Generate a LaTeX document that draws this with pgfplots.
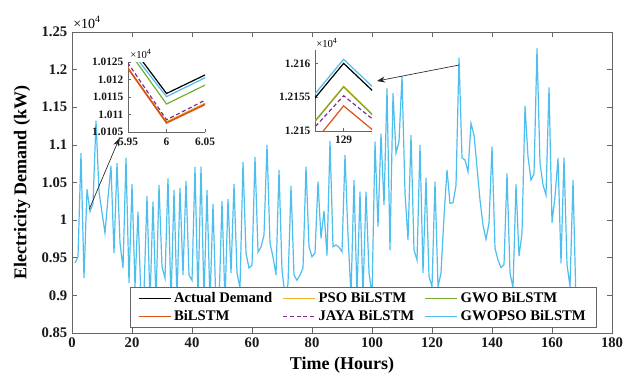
\documentclass[border=0pt]{standalone}
\usepackage{pgfplots}
\pgfplotsset{compat=1.18}
\usepackage{pgfplotstable}
\usetikzlibrary{arrows.meta}
\usepackage{fontspec}
\setmainfont{Liberation Serif}
\definecolor{colAct}{rgb}{0,0,0}
\definecolor{colBi}{rgb}{0.850,0.325,0.098}
\definecolor{colPSO}{rgb}{0.929,0.694,0.125}
\definecolor{colJaya}{rgb}{0.494,0.184,0.556}
\definecolor{colGWO}{rgb}{0.466,0.674,0.188}
\definecolor{colGP}{rgb}{0.302,0.745,0.933}
\definecolor{axgray}{rgb}{0.40,0.40,0.40}

\pgfplotstableread{
h v
1 9430
2 9514
3 10890
4 9231
5 10411
6 10116
7 10222
8 11322
9 10380
10 10100
11 9829
12 10300
13 10720
14 9563
15 10759
16 9696
17 9364
18 10826
19 9164
20 10480
21 9115
22 10112
23 8950
24 9050
25 10320
26 8900
27 10245
28 8900
29 10467
30 9381
31 9230
32 10556
33 8900
34 10400
35 8950
36 10427
37 9271
38 10520
39 9271
40 9200
41 10706
42 8950
43 10710
44 8950
45 10400
46 8900
47 10214
48 8850
49 8900
50 10254
51 8900
52 10280
53 9297
54 10480
55 9300
56 9100
57 10773
58 9563
59 9364
60 9400
61 10840
62 9576
63 9642
64 9802
65 10999
66 9696
67 9510
68 9270
69 10666
70 9337
71 9000
72 9150
73 10453
74 9271
75 9200
76 9271
77 9364
78 10710
79 9647
80 9514
81 9563
82 10511
83 9758
84 10121
85 9528
86 11051
87 9647
88 9670
89 9640
90 9580
91 10866
92 9800
93 9000
94 10533
95 9000
96 10378
97 9000
98 10378
99 9300
100 9000
101 11043
102 9913
103 11150
104 10200
105 11750
106 9603
107 11686
108 10892
109 11043
110 11915
111 10360
112 9736
113 11131
114 9603
115 9470
116 10999
117 9297
118 10560
119 9250
120 9115
121 10511
122 9115
123 9297
124 10046
125 10666
126 10224
127 10230
128 10460
129 12160
130 10827
131 10800
132 10644
133 11287
134 11131
135 10700
136 10267
137 9935
138 9745
139 9960
140 10976
141 9625
142 9470
143 9370
144 9410
145 10622
146 9300
147 9100
148 10476
149 9523
150 9825
151 11517
152 10843
153 10533
154 10613
155 12284
156 10755
157 10467
158 10334
159 11765
160 9966
161 10311
162 10822
163 9426
164 10830
165 9410
166 9115
167 10533
168 8900
}\demand

\pgfplotstableread{
h act gp gwo jaya pso bi
5 10411 10398 10421 10432 10416 10419
6 10116.0 10115.1 10113.0 10108.5 10107.9 10107.6
7 10222 10223 10221 10220 10214 10213
}\insetA

\pgfplotstableread{
dh act gp gwo jaya pso bi
-1 10460 10460.6 10460 10622 10457 10417
0 12160.0 12160.6 12156.5 12155.2 12156.6 12153.7
1 10827 10827.6 10795 11022 10790 10987
}\insetB

\begin{document}
\begin{tikzpicture}
\useasboundingbox (0,0) rectangle (475.5pt,-284.25pt);
\begin{axis}[
  at={(54pt,-249.75pt)}, anchor=south west,
  scale only axis, width=405pt, height=225.75pt,
  xmin=0, xmax=180, ymin=8500, ymax=12500,
  xtick={0,20,40,60,80,100,120,140,160,180},
  xticklabels={0,20,40,60,80,100,120,140,160,180},
  ytick={8500,9000,9500,10000,10500,11000,11500,12000,12500},
  yticklabels={0.85,0.9,0.95,1,1.05,1.1,1.15,1.2,1.25},
  scaled ticks=false,
  tick align=inside, major tick length=4pt,
  axis line style={draw=axgray, line width=0.5pt},
  every tick/.style={draw=axgray, line width=0.5pt},
  every tick label/.append style={font=\fontsize{11}{13}\selectfont\bfseries, text=black!90},
  xlabel={Time (Hours)},
  ylabel={Electricity Demand (kW)},
  every axis y label/.style={at={(axis description cs:-0.0926,0.5)}, rotate=90, anchor=center, font=\fontsize{13.5}{15}\selectfont\bfseries},
  every axis x label/.style={at={(axis description cs:0.5,-0.106)}, anchor=center, font=\fontsize{13.5}{15}\selectfont\bfseries},
  legend columns=3,
  legend cell align=left,
  legend image code/.code={\draw[#1] (0pt,0pt) -- (24pt,0pt);},
  legend style={at={(axis description cs:0.1074,0.153)}, anchor=north west,
    draw=axgray, fill=white, line width=0.5pt,
    font=\fontsize{11}{13}\selectfont\bfseries,
    /tikz/every even column/.append style={column sep=6pt},
    inner xsep=6pt, inner ysep=2pt},
]
\addlegendimage{color=colAct, line width=0.8pt}
\addlegendentry{Actual Demand}
\addlegendimage{color=colPSO, line width=0.8pt}
\addlegendentry{PSO BiLSTM}
\addlegendimage{color=colGWO, line width=0.8pt}
\addlegendentry{GWO BiLSTM}
\addlegendimage{color=colBi, line width=0.8pt}
\addlegendentry{BiLSTM}
\addlegendimage{color=colJaya, line width=0.8pt, dash pattern=on 3pt off 2pt}
\addlegendentry{JAYA BiLSTM}
\addplot[color=colGP, line width=0.9pt] table[x=h,y=v]{\demand};
\addlegendentry{GWOPSO BiLSTM}
\draw[-{Stealth[length=6pt,width=4.5pt]}, black!85, line width=0.5pt] (axis cs:5.8,10150) -- (axis cs:15.77,11087);
\draw[-{Stealth[length=6pt,width=4.5pt]}, black!85, line width=0.5pt] (axis cs:129,12061) -- (axis cs:101.67,11849);
\end{axis}
\node[anchor=base west, inner sep=0pt, font=\fontsize{10.5}{12}\selectfont] at (54.75pt,-21pt) {×10\textsuperscript{4}};

% inset 1
\begin{axis}[
  at={(96pt,-99pt)}, anchor=south west,
  scale only axis, width=57.75pt, height=52.5pt,
  axis background/.style={fill=white},
  axis x line*=bottom, axis y line*=left,
  xmin=5.95, xmax=6.05, ymin=10105, ymax=10125,
  xtick={5.95,6,6.05}, xticklabels={5.95,6,6.05},
  ytick={10105,10110,10115,10120,10125},
  yticklabels={1.0105,1.011,1.0115,1.012,1.0125},
  scaled ticks=false,
  tick align=inside, major tick length=2.5pt,
  axis line style={draw=axgray, line width=0.5pt},
  every tick/.style={draw=axgray, line width=0.5pt},
  every tick label/.append style={font=\fontsize{8.5}{10}\selectfont\bfseries, text=black!90},
  xticklabel style={yshift=-1pt},
]
\addplot[color=colAct, line width=0.9pt] table[x=h,y=act]{\insetA};
\addplot[color=colPSO, line width=0.9pt] table[x=h,y=pso]{\insetA};
\addplot[color=colBi, line width=1.2pt] table[x=h,y=bi]{\insetA};
\addplot[color=colJaya, line width=0.9pt, dash pattern=on 3pt off 2pt] table[x=h,y=jaya]{\insetA};
\addplot[color=colGWO, line width=0.9pt] table[x=h,y=gwo]{\insetA};
\addplot[color=colGP, line width=0.9pt] table[x=h,y=gp]{\insetA};
\end{axis}
\node[anchor=base west, inner sep=0pt, font=\fontsize{8}{10}\selectfont] at (97.5pt,-43.9pt) {×10\textsuperscript{4}};

% inset 2
\begin{axis}[
  at={(236.25pt,-98.25pt)}, anchor=south west,
  scale only axis, width=42.75pt, height=60.75pt,
  axis background/.style={fill=white},
  axis x line*=bottom, axis y line*=left,
  xmin=-0.003, xmax=0.003, ymin=12150, ymax=12162,
  xtick={0}, xticklabels={129},
  ytick={12150,12155,12160},
  yticklabels={1.215,1.2155,1.216},
  scaled ticks=false,
  tick align=inside, major tick length=2.5pt,
  axis line style={draw=axgray, line width=0.5pt},
  every tick/.style={draw=axgray, line width=0.5pt},
  every tick label/.append style={font=\fontsize{8.5}{10}\selectfont\bfseries, text=black!90},
]
\addplot[color=colAct, line width=0.9pt] table[x=dh,y=act]{\insetB};
\addplot[color=colPSO, line width=0.9pt] table[x=dh,y=pso]{\insetB};
\addplot[color=colBi, line width=0.9pt] table[x=dh,y=bi]{\insetB};
\addplot[color=colJaya, line width=0.9pt, dash pattern=on 3pt off 2pt] table[x=dh,y=jaya]{\insetB};
\addplot[color=colGWO, line width=0.9pt] table[x=dh,y=gwo]{\insetB};
\addplot[color=colGP, line width=0.9pt] table[x=dh,y=gp]{\insetB};
\end{axis}
\node[anchor=base west, inner sep=0pt, font=\fontsize{8}{10}\selectfont] at (237pt,-35.25pt) {×10\textsuperscript{4}};
\end{tikzpicture}
\end{document}
